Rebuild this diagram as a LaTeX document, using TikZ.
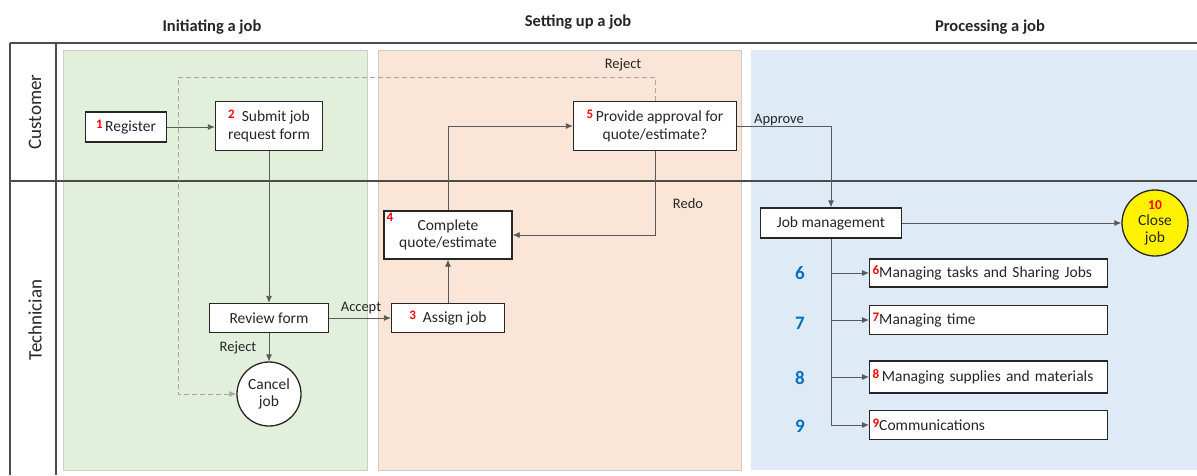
\documentclass[tikz,border=0pt]{standalone}
\usepackage{fontspec}
\setmainfont{Carlito}
\usetikzlibrary{arrows.meta}
\definecolor{lgreen}{HTML}{E2EFDA}
\definecolor{lpeach}{HTML}{FBE5D6}
\definecolor{lblue}{HTML}{DEEBF7}
\definecolor{numblue}{HTML}{0070C0}
\definecolor{linegray}{HTML}{595959}
\definecolor{dashgray}{HTML}{A6A6A6}
\newcommand{\rn}[1]{\textcolor{red}{\raisebox{0.4ex}{\fontsize{13}{13}\selectfont\bfseries #1}}}
\tikzset{
  every node/.style={font=\fontsize{15.5}{17.5}\selectfont, text=black!85},
  lane/.style={draw=black!70, line width=1.2pt},
  bgpanel/.style={draw=black!20, line width=0.8pt},
  box/.style={draw=black!85, line width=1.3pt, fill=white, rectangle, inner sep=2pt, align=center},
  wbox/.style={draw=black!85, line width=1.3pt, fill=white, rectangle, inner xsep=3pt, inner ysep=2pt, text width=232pt, align=left, anchor=west},
  endc/.style={draw=black!85, line width=1.3pt, circle, inner sep=0pt, align=center},
  conn/.style={draw=linegray, line width=0.8pt, -{Latex[length=7pt,width=6pt]}},
  plain/.style={draw=linegray, line width=0.8pt},
  rej/.style={draw=dashgray, line width=0.9pt, dash pattern=on 5pt off 3pt, -{Latex[length=7pt,width=6pt]}},
  title/.style={font=\fontsize{16.5}{18}\selectfont\bfseries},
  lanelbl/.style={font=\fontsize{19}{21}\selectfont, rotate=90},
  bignum/.style={font=\fontsize{19}{21}\selectfont\bfseries, text=numblue},
  lbl/.style={font=\fontsize{14.5}{16}\selectfont}
}
\begin{document}
\begin{tikzpicture}[x=1pt,y=-1pt]
\useasboundingbox[fill=white] (0,0) rectangle (1197,475);
% panels
\fill[lgreen] (63,50) rectangle (367,470);
\draw[bgpanel] (63,50) rectangle (367,470);
\fill[lpeach] (378,50) rectangle (741,470);
\draw[bgpanel] (378,50) rectangle (741,470);
\fill[lblue] (751,50) rectangle (1197,470);
% lanes
\draw[lane] (10,43) -- (1197,43);
\draw[lane] (10,181) -- (1197,181);
\draw[lane] (10,43) -- (10,475);
\draw[lane] (56,43) -- (56,475);
\node[lanelbl] (lcust) at (35,112) {Customer};
\node[lanelbl] (ltech) at (35,320) {Technician};
% titles
\node[title] (t1) at (212,27) {Initiating a job};
\node[title] (t2) at (578,22) {Setting up a job};
\node[title] (t3) at (990,27) {Processing a job};
% nodes
\node[box, minimum width=81pt, minimum height=30pt] (register) at (126,127) {\rn{1}\,Register};
\node[box, minimum width=107pt, minimum height=49pt] (submit) at (269,126) {\rn{2}\ \ Submit job\\request form};
\node[box, minimum width=119pt, minimum height=29pt] (review) at (269,318) {Review form};
\node[endc, fill=white, minimum size=64pt] (cancel) at (269,394) {Cancel\\job};
\node[box, minimum width=113pt, minimum height=29pt] (assign) at (448,318) {\rn{3}\ \ Assign job};
\node[box, minimum width=128pt, minimum height=48pt] (complete) at (448,235) {Complete\\quote/estimate};
\node[anchor=north west, inner sep=3pt] (n4) at (complete.north west) {\rn{4}};
\node[box, minimum width=163pt, minimum height=49pt] (provide) at (655,126) {\rn{5}\,Provide approval for\\quote/estimate?};
\node[box, minimum width=141pt, minimum height=30pt] (jobm) at (831,223) {Job management};
\node[endc, fill=yellow, minimum size=66pt] (close) at (1155,223) {\textcolor{red}{\fontsize{13.5}{13.5}\selectfont\bfseries 10}\\[-2pt]Close\\job};
\node[wbox, minimum height=28pt] (b6) at (869,273) {\rn{6}Managing tasks and Sharing Jobs};
\node[wbox, minimum height=29pt] (b7) at (869,320) {\rn{7}Managing time};
\node[wbox, minimum height=32pt] (b8) at (869,377) {\rn{8}\,Managing supplies and materials};
\node[wbox, minimum height=29pt] (b9) at (869,425) {\rn{9}Communications};
\node[bignum] (n6) at (800,273) {6};
\node[bignum] (n7) at (800,323) {7};
\node[bignum] (n8) at (800,378) {8};
\node[bignum] (n9) at (800,426) {9};
% connectors
\coordinate (rj1) at (178,77);
\draw[rej] (provide.north) |- (rj1) |- (cancel.west);
\node[lbl] (lrej1) at (623,65) {Reject};
\draw[conn] (register.east) -- (register.east -| submit.west);
\draw[conn] (submit.south) -- (review.north);
\draw[conn] (review.south) -- (cancel.north);
\node[lbl] (lrej2) at (238,348) {Reject};
\draw[conn] (review.east) -- (assign.west);
\node[lbl] (lacc) at (361,308) {Accept};
\draw[conn] (assign.north) -- (complete.south);
\draw[conn] (complete.north) |- (provide.west);
\draw[conn] (provide.south) |- (complete.east);
\node[lbl] (lredo) at (688,204) {Redo};
\draw[conn] (provide.east) -| (jobm.north);
\node[lbl] (lapp) at (779,120) {Approve};
\draw[conn] (jobm.east) -- (close.west);
\draw[plain] (jobm.south) -- (jobm.south |- b9.west);
\foreach \b in {b6,b7,b8,b9} {
  \draw[conn] (jobm.south |- \b.west) -- (\b.west);
}
\end{tikzpicture}
\end{document}
